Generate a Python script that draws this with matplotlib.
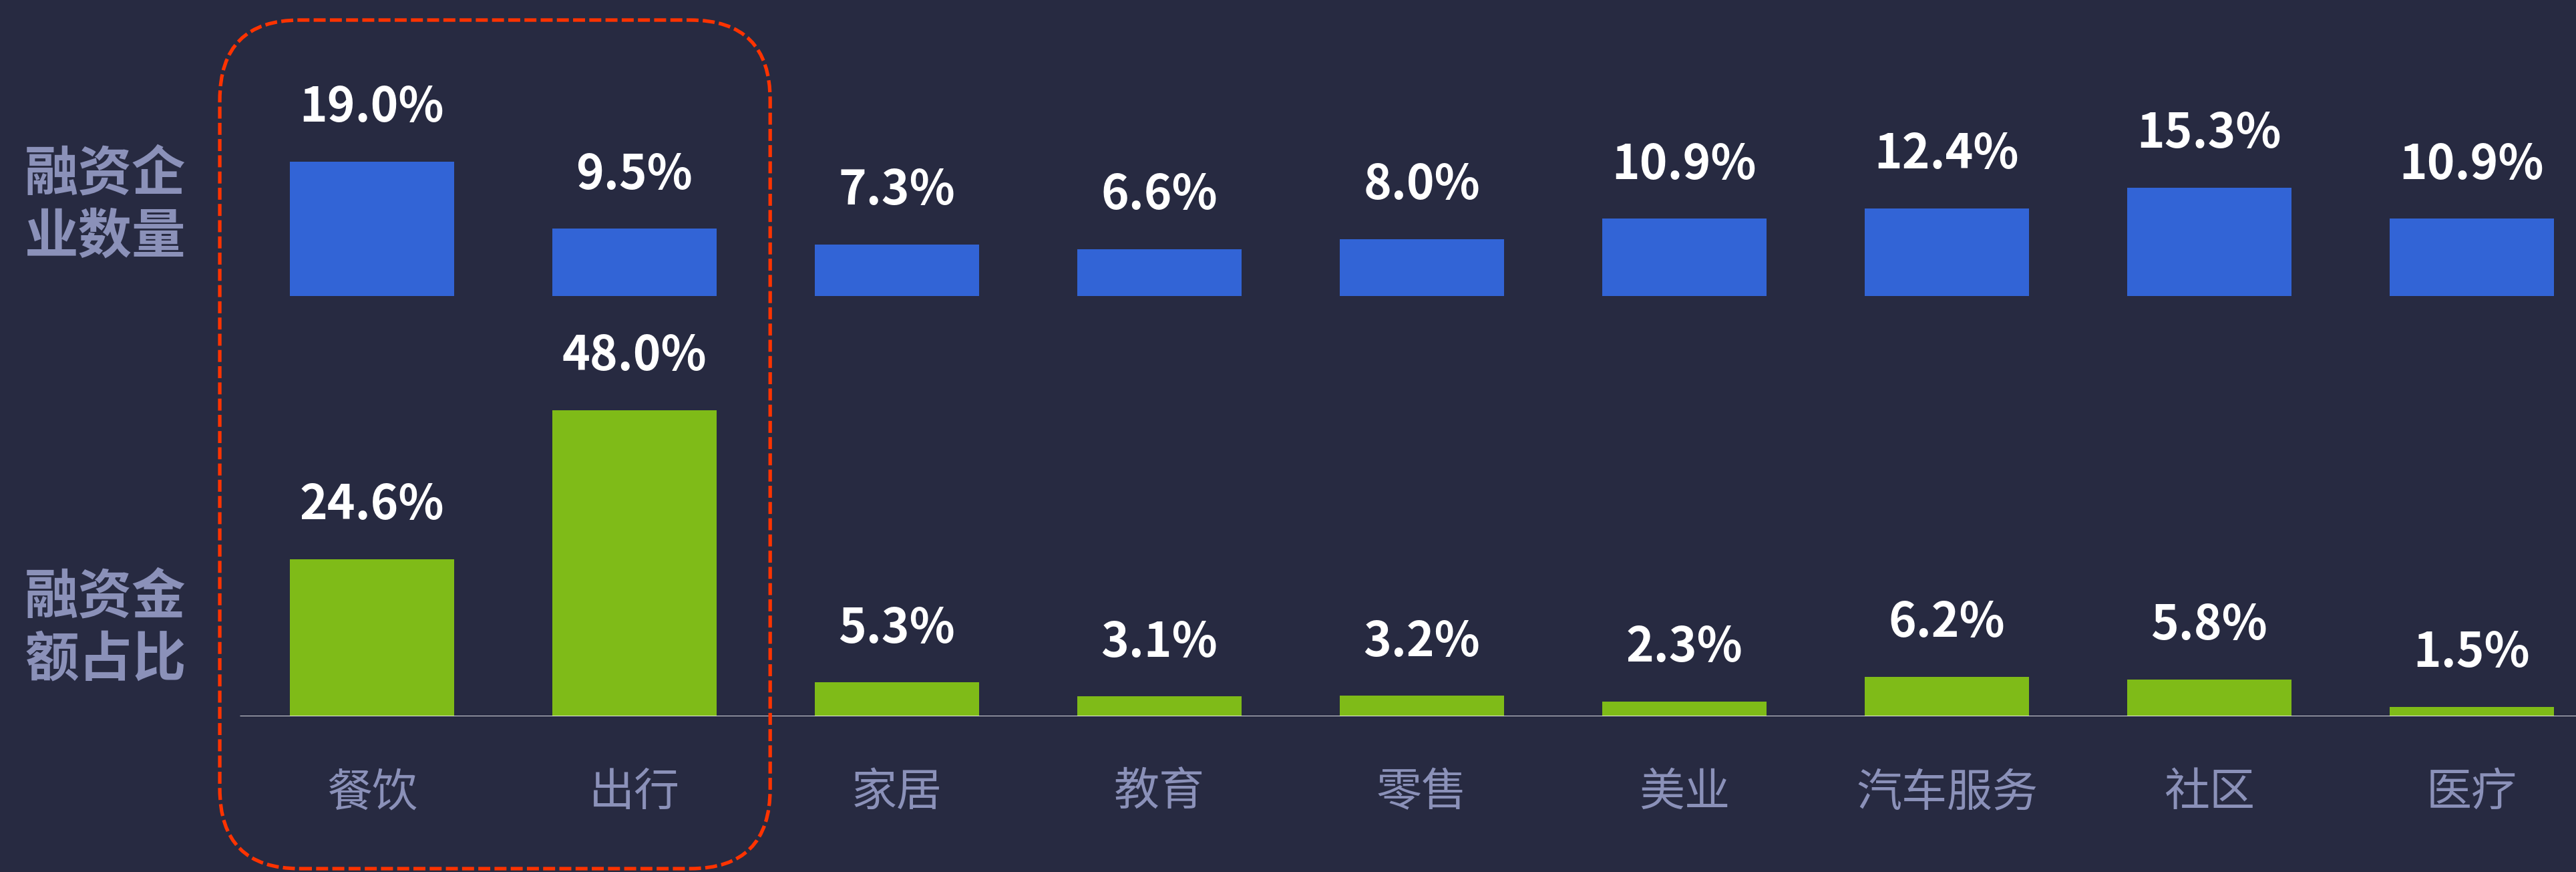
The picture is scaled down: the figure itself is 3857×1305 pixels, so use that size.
import matplotlib
matplotlib.use("Agg")
import matplotlib.pyplot as plt
from matplotlib.patches import FancyBboxPatch
from matplotlib.transforms import blended_transform_factory

plt.rcParams['font.family'] = ['Noto Sans CJK SC', 'DejaVu Sans']

# ---- data ----
categories = ["餐饮", "出行", "家居", "教育", "零售", "美业", "汽车服务", "社区", "医疗"]
count_share = [19.0, 9.5, 7.3, 6.6, 8.0, 10.9, 12.4, 15.3, 10.9]     # 融资企业数量
amount_share = [24.6, 48.0, 5.3, 3.1, 3.2, 2.3, 6.2, 5.8, 1.5]       # 融资金额占比
row_labels = ["融资企\n业数量", "融资金\n额占比"]
highlight = [0, 1]

BG = "#272a41"
BLUE = "#3264d6"
GREEN = "#7fbb18"
LAB = "#8b91b9"
RED = "#ff3300"

W, H, DPI = 3857, 1305, 100
fig = plt.figure(figsize=(W / DPI, H / DPI), dpi=DPI, facecolor=BG)

# x mapping: category i centre at pixel 557 + 393*i
x0 = -557 / 393
x1 = (W - 557) / 393
xs = list(range(len(categories)))
bw = 246 / 393

# top axes (blue): baseline at pixel 443 from top
top_base = (H - 443) / H
ax_top = fig.add_axes([0, top_base, 1, 1 - top_base])
ax_top.set_xlim(x0, x1)
ax_top.set_ylim(0, 443 / 10.6)
ax_top.bar(xs, count_share, width=bw, color=BLUE)
for x, v in zip(xs, count_share):
    ax_top.annotate(f"{v:.1f}%", (x, v), xytext=(0, 43), textcoords="offset points",
                    ha="center", va="baseline", color="white", fontsize=51,
                    fontweight="bold")

# bottom axes (green): baseline at pixel 1072 from top
bot_base = (H - 1072) / H
ax_bot = fig.add_axes([0, bot_base, 1, 1 - bot_base])
ax_bot.set_xlim(x0, x1)
ax_bot.set_ylim(0, 1072 / 9.55)
ax_bot.bar(xs, amount_share, width=bw, color=GREEN)
for x, v in zip(xs, amount_share):
    ax_bot.annotate(f"{v:.1f}%", (x, v), xytext=(0, 43), textcoords="offset points",
                    ha="center", va="baseline", color="white", fontsize=51,
                    fontweight="bold")
ax_bot.hlines(0, (359 - 557) / 393, x1, color="#f0f0f5", lw=2, zorder=3)

for ax in (ax_top, ax_bot):
    ax.set_facecolor("none")
    ax.axis("off")

# category labels
tr = blended_transform_factory(ax_bot.transData, fig.transFigure)
for x, c in zip(xs, categories):
    ax_bot.text(x, (H - 1187) / H, c, transform=tr, ha="center", va="center",
                color=LAB, fontsize=49)

# row labels
fig.text(158 / W, (H - 308) / H, row_labels[0], ha="center", va="center",
         color=LAB, fontsize=58, fontweight="bold", linespacing=1.2)
fig.text(158 / W, (H - 941) / H, row_labels[1], ha="center", va="center",
         color=LAB, fontsize=58, fontweight="bold", linespacing=1.2)

# highlight box around first two categories
fig.canvas.draw()
left_px = ax_bot.transData.transform((highlight[0] - 0.58, 0))[0]
right_px = ax_bot.transData.transform((highlight[-1] + 0.517, 0))[0]
top_px = H - 30
bot_px = H - 1300
box = FancyBboxPatch((left_px / DPI, bot_px / DPI),
                     (right_px - left_px) / DPI, (top_px - bot_px) / DPI,
                     boxstyle="round,pad=0,rounding_size=1.2",
                     transform=fig.dpi_scale_trans, fill=False,
                     edgecolor=RED, lw=3.8, linestyle=(0, (3.4, 1.2)), zorder=10)
fig.patches.append(box)

fig.savefig("out.png", dpi=DPI, facecolor=BG)
